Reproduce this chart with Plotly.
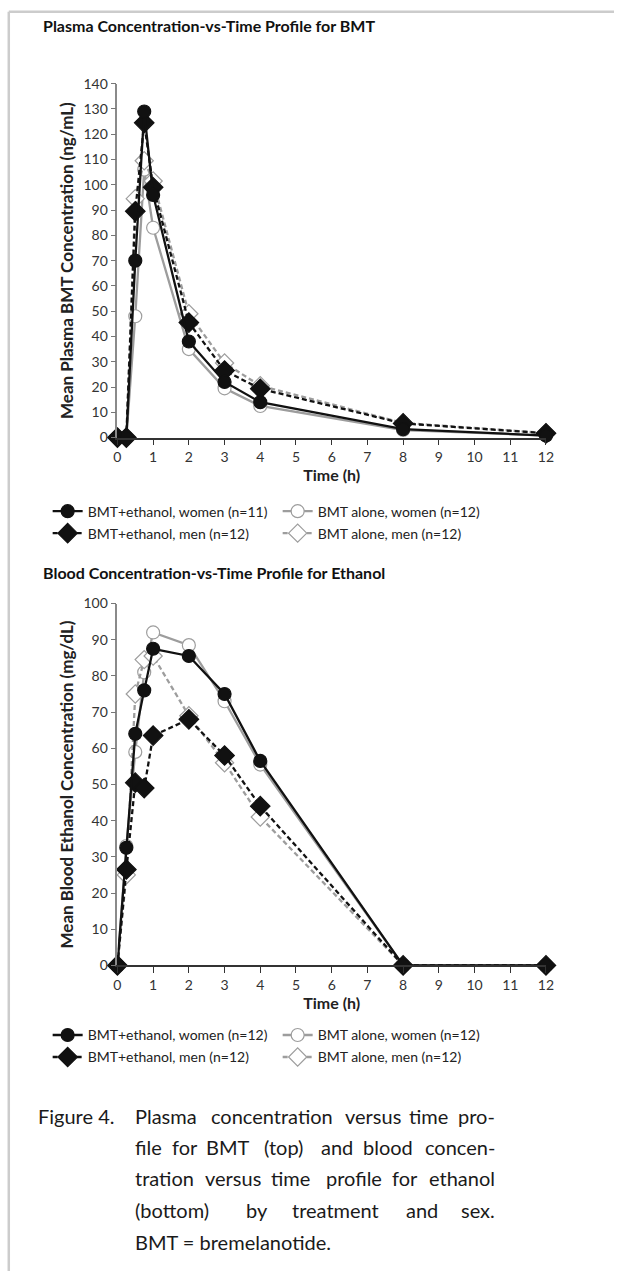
import plotly.graph_objects as go

# ---------------- data ----------------
times = [0, 0.25, 0.5, 0.75, 1, 2, 3, 4, 8, 12]

# Plasma BMT (ng/mL)
bmt_eth_women = [0, 0, 70, 129, 96, 38, 22, 14, 3.3, 0.8]
bmt_eth_men = [0, 0, 89.5, 124.5, 99, 45.5, 26.5, 19.3, 5.6, 1.7]
bmt_alone_women = [0, 0, 48, 106, 83, 35, 19.5, 12.5, 3, 0.8]
bmt_alone_men = [0, 0, 94.5, 109.5, 101.5, 49, 29.5, 20.5, 5.8, 1.8]

# Blood ethanol (mg/dL)
eth_eth_women = [0, 32.5, 64, 76, 87.5, 85.5, 75, 56.5, 0, 0]
eth_eth_men = [0, 26.5, 50.5, 49, 63.5, 68, 58, 44, 0, 0]
eth_alone_women = [0, 33, 59, 81, 92, 88.5, 73, 55.5, 0, 0]
eth_alone_men = [0, 25, 75, 84.5, 85.5, 69, 56, 41, 0, 0]

names_top = ["BMT+ethanol, women (n=11)", "BMT+ethanol, men (n=12)",
             "BMT alone, women (n=12)", "BMT alone, men (n=12)"]
names_bot = ["BMT+ethanol, women (n=12)", "BMT+ethanol, men (n=12)",
             "BMT alone, women (n=12)", "BMT alone, men (n=12)"]

x_ticks = list(range(0, 13))
y_ticks_top = list(range(0, 141, 10))
y_ticks_bot = list(range(0, 101, 10))

caption_label = "Figure 4."
caption_lines = [
    ["Plasma", "concentration", "versus", "time", "pro-"],
    ["file", "for", "BMT", "(top)", "and", "blood", "concen-"],
    ["tration", "versus", "time", "profile", "for", "ethanol"],
    ["(bottom)", "by", "treatment", "and", "sex."],
    ["BMT = bremelanotide."],
]
# word centres (px) for the inner words of the justified lines
caption_word_cx = [
    [None, 272, 373, 429, None],
    [None, 185, 228, 284, 337, 388, None],
    [None, 233, 291, 354, 406, None],
    [None, 257, 336, 423, None],
    [None],
]
caption_y = [1117, 1148, 1179, 1211, 1243]

# ---------------- layout helpers ----------------
W, H = 622, 1279
# small correction measured between requested and photographed positions
SX, OX = 0.984, 3.2
SY, OY = 0.987, 9.3


def px(x):
    return ((x - OX) / SX) / W


def py(y):
    return 1 - ((y - OY) / SY) / H


FONT = "Lato"
BLACK = "#111111"
GRAY = "#9d9d9d"

styles = [
    dict(color=BLACK, dash="solid", symbol="circle", fill=BLACK, size=13, rank=1),
    dict(color=BLACK, dash="5px,3px", symbol="diamond", fill=BLACK, size=15, rank=3),
    dict(color=GRAY, dash="solid", symbol="circle", fill="white", size=13, rank=2),
    dict(color=GRAY, dash="5px,3px", symbol="diamond", fill="white", size=14, rank=4),
]

fig = go.Figure()


def add_panel(xaxis, yaxis, series, names, leg_a, leg_b):
    order = [2, 3, 1, 0]  # grays first, blacks on top
    for i in order:
        st = styles[i]
        leg = leg_a if i in (0, 2) else leg_b
        fig.add_trace(go.Scatter(
            x=times, y=series[i], name=names[i], mode="lines+markers",
            xaxis=xaxis, yaxis=yaxis, legend=leg, legendrank=st["rank"],
            line=dict(color=st["color"], width=2.3, dash=st["dash"]),
            marker=dict(symbol=st["symbol"], size=st["size"], color=st["fill"],
                        line=dict(color=st["color"], width=1.2)),
            cliponaxis=False,
        ))


add_panel("x", "y", [bmt_eth_women, bmt_eth_men, bmt_alone_women, bmt_alone_men],
          names_top, "legend", "legend2")
add_panel("x2", "y2", [eth_eth_women, eth_eth_men, eth_alone_women, eth_alone_men],
          names_bot, "legend3", "legend4")

tickfont = dict(family=FONT, size=14, color="#333333")


def xaxis_cfg(anchor):
    return dict(domain=[px(117), px(547)], range=[0, 12], anchor=anchor,
                tickmode="array", tickvals=x_ticks, ticks="outside", ticklen=6,
                tickcolor="#333", showline=True, linecolor="#333", linewidth=1.5,
                showgrid=False, zeroline=False, tickfont=tickfont,
                title=dict(text="Time (h)",
                           font=dict(family=FONT, size=16, color="#222", weight="bold"),
                           standoff=4))


def yaxis_cfg(anchor, dom, rng, vals, title):
    return dict(domain=dom, range=rng, anchor=anchor,
                tickmode="array", tickvals=vals, ticks="outside", ticklen=5,
                tickcolor="#777", showline=True, linecolor="#8a8a8a", linewidth=1.5,
                showgrid=False, zeroline=False, tickfont=tickfont,
                title=dict(text=title,
                           font=dict(family=FONT, size=17, color="#222", weight="bold"),
                           standoff=6))


leg_common = dict(orientation="h", font=dict(family=FONT, size=14, color="#222"),
                  bgcolor="rgba(0,0,0,0)", xanchor="left", yanchor="middle",
                  entrywidth=185, entrywidthmode="pixels", itemclick=False,
                  itemdoubleclick=False, traceorder="normal")

fig.update_layout(
    width=W, height=H, margin=dict(l=0, r=0, t=0, b=0),
    paper_bgcolor="white", plot_bgcolor="white",
    font=dict(family=FONT, color="#222"),
    xaxis=xaxis_cfg("y"),
    yaxis=yaxis_cfg("x", [py(438), py(84)], [0, 140], y_ticks_top,
                    "Mean Plasma BMT Concentration (ng/mL)"),
    xaxis2=xaxis_cfg("y2"),
    yaxis2=yaxis_cfg("x2", [py(966), py(604)], [0, 100], y_ticks_bot,
                     "Mean Blood Ethanol Concentration (mg/dL)"),
    legend=dict(leg_common, x=px(47), y=py(512)),
    legend2=dict(leg_common, x=px(47), y=py(534)),
    legend3=dict(leg_common, x=px(47), y=py(1036)),
    legend4=dict(leg_common, x=px(47), y=py(1058)),
)

# page border lines
fig.add_shape(type="line", xref="paper", yref="paper", x0=px(8), x1=1, y0=py(12), y1=py(12),
              line=dict(color="#cccccc", width=2.5))
fig.add_shape(type="line", xref="paper", yref="paper", x0=px(8), x1=px(8), y0=py(12), y1=0,
              line=dict(color="#cccccc", width=2.5))

# panel titles
fig.add_annotation(text="<b>Plasma Concentration-vs-Time Profile for BMT</b>",
                   xref="paper", yref="paper", x=px(40), y=py(26), xanchor="left",
                   yanchor="middle", showarrow=False,
                   font=dict(family=FONT, size=16, color="#111"))
fig.add_annotation(text="<b>Blood Concentration-vs-Time Profile for Ethanol</b>",
                   xref="paper", yref="paper", x=px(40), y=py(573), xanchor="left",
                   yanchor="middle", showarrow=False,
                   font=dict(family=FONT, size=16, color="#111"))

# caption
capfont = dict(family=FONT, size=20, color="#1a1a1a")
fig.add_annotation(text=caption_label, xref="paper", yref="paper", x=px(35), y=py(caption_y[0]),
                   xanchor="left", yanchor="middle", showarrow=False, font=capfont)
n_lines = len(caption_lines)
for li, words in enumerate(caption_lines):
    for wi, wtxt in enumerate(words):
        if wi == 0:
            xx, anc = 133, "left"
        elif wi == len(words) - 1 and li < n_lines - 1:
            xx, anc = 498, "right"
        else:
            xx, anc = caption_word_cx[li][wi], "center"
        fig.add_annotation(text=wtxt, xref="paper", yref="paper",
                           x=px(xx), y=py(caption_y[li]), xanchor=anc, yanchor="middle",
                           showarrow=False, font=capfont)

fig.write_html("out.html", config={"displayModeBar": False},
               post_script="document.body.style.margin='0';document.body.style.overflow='hidden';")
